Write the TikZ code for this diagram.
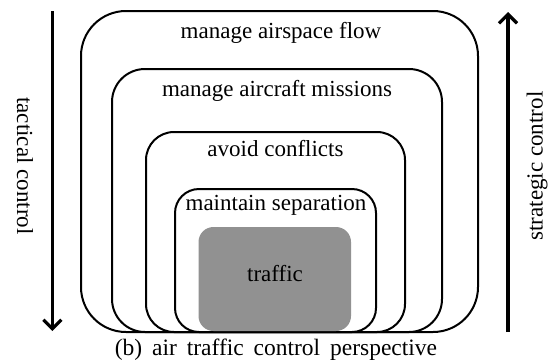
\documentclass[tikz,border=0pt]{standalone}
\usepackage{fontspec}
\setmainfont{Liberation Serif}
\usetikzlibrary{arrows.meta}
\definecolor{trafficgray}{RGB}{145,145,145}
\begin{document}
\begin{tikzpicture}[x=1pt,y=-1pt,
  layer/.style={draw, line width=2pt, rectangle, inner sep=0pt, outer sep=0pt},
  lbl/.style={font=\fontsize{23}{27}\selectfont, anchor=base, inner sep=0pt},
  sidelbl/.style={font=\fontsize{23}{27}\selectfont, anchor=center, inner sep=0pt},
  ctrl/.style={line width=3.6pt, -{Straight Barb[length=9pt,width=18pt,line width=3.2pt]}},
]
\useasboundingbox[fill=white] (0,0) rectangle (548,362);
\node[layer, rounded corners=45pt, minimum width=397pt, minimum height=321pt] (b1) at (279.5,171.5) {};
\node[layer, rounded corners=33pt, minimum width=330pt, minimum height=263pt] (b2) at (277,200.5) {};
\node[layer, rounded corners=28pt, minimum width=259pt, minimum height=200pt] (b3) at (275.5,232) {};
\node[layer, rounded corners=24pt, minimum width=201pt, minimum height=143pt] (b4) at (275.5,260.5) {};
\node[rectangle, fill=trafficgray, rounded corners=15pt, inner sep=0pt, outer sep=0pt, minimum width=152.5pt, minimum height=104pt] (tr) at (274.75,279) {};

\node[lbl] (t1) at (281,38) {manage airspace flow};
\node[lbl] (t2) at (277,96.7) {manage aircraft missions};
\node[lbl] (t3) at (275.5,156.7) {avoid conflicts};
\node[lbl] (t4) at (276,210) {maintain separation};
\node[lbl] (t5) at (275,281) {traffic};
\node[lbl, font=\fontsize{23.5}{27}\selectfont] (cap) at (276,355.5) {\spaceskip=0.42em plus 0.1em\relax (b) air traffic control perspective};

\coordinate (ltop) at (52.4,11);
\coordinate (lbot) at (52.4,331);
\coordinate (rbot) at (508,332);
\coordinate (rtop) at (508,12);
\draw[ctrl] (ltop) -- (lbot);
\draw[ctrl] (rbot) -- (rtop);

\node[sidelbl, rotate=-90] (tac) at (25,166) {tactical control};
\node[sidelbl, rotate=90] (str) at (537,166) {strategic control};
\end{tikzpicture}
\end{document}
